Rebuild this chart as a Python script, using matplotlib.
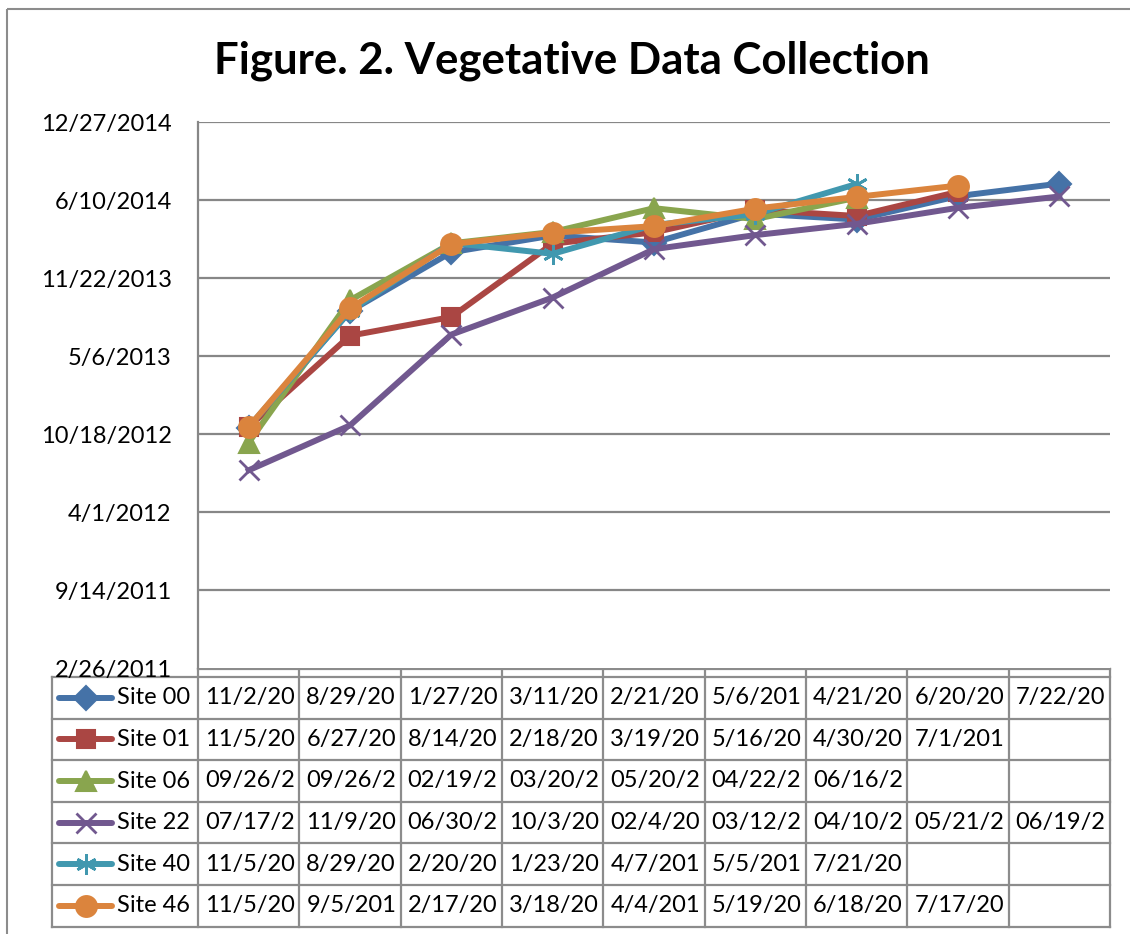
import datetime as dt
import matplotlib
matplotlib.use('Agg')
import matplotlib.pyplot as plt
import matplotlib.dates as mdates
from matplotlib.patches import Rectangle
from matplotlib.lines import Line2D

FONT = ['Lato', 'DejaVu Sans']
plt.rcParams['font.family'] = FONT

# dates as entered in the sheet (the table shows only the first 7 characters)
sites = ['Site 00', 'Site 01', 'Site 06', 'Site 22', 'Site 40', 'Site 46']
site00 = ['11/2/2012', '8/29/2013', '1/27/2014', '3/11/2014', '2/21/2014', '5/6/2014', '4/21/2014', '6/20/2014', '7/22/2014']
site01 = ['11/5/2012', '6/27/2013', '8/14/2013', '2/18/2014', '3/19/2014', '5/16/2014', '4/30/2014', '7/1/2014']
site06 = ['09/26/2012', '09/26/2013', '02/19/2014', '03/20/2014', '05/20/2014', '04/22/2014', '06/16/2014']
site22 = ['07/17/2012', '11/9/2012', '06/30/2013', '10/3/2013', '02/4/2014', '03/12/2014', '04/10/2014', '05/21/2014', '06/19/2014']
site40 = ['11/5/2012', '8/29/2013', '2/20/2014', '1/23/2014', '4/7/2014', '5/5/2014', '7/21/2014']
site46 = ['11/5/2012', '9/5/2013', '2/17/2014', '3/18/2014', '4/4/2014', '5/19/2014', '6/18/2014', '7/17/2014']
series = [site00, site01, site06, site22, site40, site46]
n_cols = 9

colors = ['#4572A7', '#AA4643', '#89A54E', '#71588F', '#4198AF', '#DB843D']
markers = ['D', 's', '^', 'x', (6, 2, 0), 'o']
msizes = [12, 13, 15, 14, 15, 15]

y_start = dt.date(2011, 2, 26)
y_step = 200
n_ticks = 8


def parse(s):
    m, d, y = s.split('/')
    return dt.date(int(y), int(m), int(d))


W, H = 1130, 934
fig = plt.figure(figsize=(W / 100, H / 100), dpi=100)

# chart area border
bg = fig.add_axes([0, 0, 1, 1])
bg.set_xlim(0, W)
bg.set_ylim(H, 0)
bg.axis('off')
bg.add_patch(Rectangle((7, 9), W + 10, H + 10, fill=False, edgecolor='#8c8c8c', linewidth=1.5))

# plot area
pl, pr, pt, pb = 198, 1110, 122, 668
ax = fig.add_axes([pl / W, (H - pb) / H, (pr - pl) / W, (pb - pt) / H])
ticks = [y_start + dt.timedelta(days=y_step * i) for i in range(n_ticks)]
tick_nums = mdates.date2num(ticks)
ax.set_ylim(tick_nums[0], tick_nums[-1])
ax.set_yticks(tick_nums)
ax.set_yticklabels([f'{t.month}/{t.day}/{t.year}' for t in ticks], fontsize=17)
ax.set_xlim(-0.5, n_cols - 0.5)
ax.set_xticks([])
ax.tick_params(axis='y', length=0, pad=19)
for yv in tick_nums[1:]:
    ax.axhline(yv, color='#878787', linewidth=1.6, zorder=1)
for s in ['top', 'right', 'bottom']:
    ax.spines[s].set_visible(False)
ax.spines['left'].set_color('#878787')
ax.spines['left'].set_linewidth(1.6)

for vals, c, m, ms in zip(series, colors, markers, msizes):
    ys = mdates.date2num([parse(v) for v in vals])
    ax.plot(range(len(ys)), ys, color=c, linewidth=4.3, marker=m, markersize=ms,
            markeredgewidth=1.5 if m not in ('x', (6, 2, 0)) else 2, markeredgecolor=c,
            clip_on=False, zorder=3)

fig.text(572 / W, 1 - 61 / H, 'Figure. 2. Vegetative Data Collection', ha='center', va='center',
         fontsize=31.5, fontweight='bold')

# data table below the plot
gray = '#8c8c8c'
tl, head_top, rows_top, row_h = 52, 669, 677, 41.6
col_w = (pr - pl) / n_cols
rows_bot = rows_top + row_h * len(sites)
lw = 1.6
# header strip (empty category row)
bg.plot([pl, pr], [head_top, head_top], color=gray, lw=lw)
for i in range(n_cols + 1):
    x = pl + i * col_w
    bg.plot([x, x], [head_top, rows_bot], color=gray, lw=lw)
bg.plot([tl, tl], [rows_top, rows_bot], color=gray, lw=lw)
for r in range(len(sites) + 1):
    y = rows_top + r * row_h
    bg.plot([tl, pr], [y, y], color=gray, lw=lw)

for r, (name, vals, c, m, ms) in enumerate(zip(sites, series, colors, markers, msizes)):
    yc = rows_top + (r + 0.5) * row_h
    bg.add_line(Line2D([59, 112], [yc, yc], color=c, linewidth=4.3, solid_capstyle='round'))
    bg.add_line(Line2D([85.5], [yc], color=c, marker=m, markersize=ms, markeredgecolor=c,
                       markeredgewidth=1.5 if m not in ('x', (6, 2, 0)) else 2, linestyle='none'))
    bg.text(117, yc, name, ha='left', va='center', fontsize=17)
    for i, v in enumerate(vals):
        bg.text(pl + i * col_w + 7, yc, v[:7], ha='left', va='center', fontsize=17)

fig.savefig('out.png', dpi=100)
